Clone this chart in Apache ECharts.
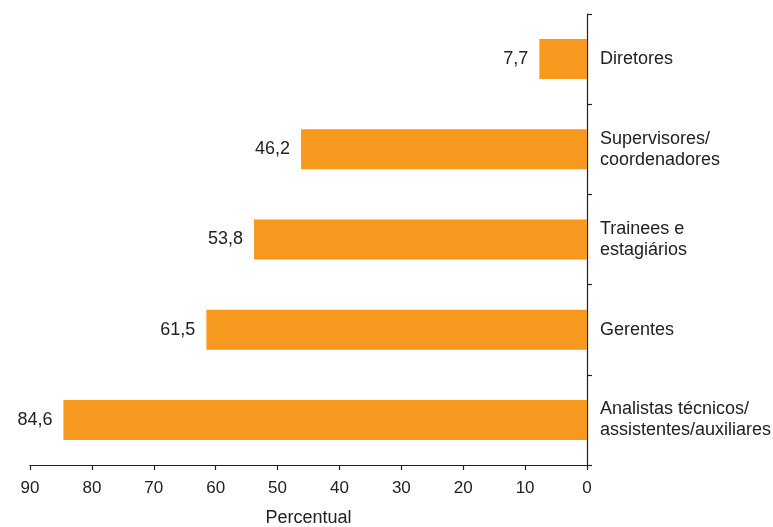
<!DOCTYPE html>
<html>
<head>
<meta charset="utf-8">
<script src="https://cdn.jsdelivr.net/npm/echarts@6/dist/echarts.min.js"></script>
<style>html,body{margin:0;padding:0;background:#fff}#c{width:773px;height:527px}</style>
</head>
<body>
<div id="c"></div>
<script>
const categories = ['Diretores', 'Supervisores/\ncoordenadores', 'Trainees e\nestagiários', 'Gerentes', 'Analistas técnicos/\nassistentes/auxiliares'];
const values = [7.7, 46.2, 53.8, 61.5, 84.6];
const xTicks = { min: 0, max: 90, interval: 10 };

const chart = echarts.init(document.getElementById('c'), null, { renderer: 'canvas' });
const font = '"Liberation Sans", Arial, sans-serif';
chart.setOption({
  animation: false,
  grid: { left: 30, right: 186, top: 14, bottom: 62, containLabel: false, outerBoundsMode: 'none' },
  xAxis: {
    type: 'value', inverse: true, position: 'bottom',
    min: xTicks.min, max: xTicks.max, interval: xTicks.interval,
    name: 'Percentual', nameLocation: 'middle', nameGap: 44,
    nameTextStyle: { fontSize: 18, color: '#222', fontFamily: font },
    axisLine: { show: true, lineStyle: { color: '#222', width: 1.2 } },
    axisTick: { show: true, inside: false, length: 5, lineStyle: { color: '#222', width: 1.2 } },
    axisLabel: { fontSize: 17, color: '#222', fontFamily: font, margin: 15 },
    splitLine: { show: false }
  },
  yAxis: {
    type: 'category', position: 'right', inverse: true, data: categories,
    axisLine: { show: true, lineStyle: { color: '#222', width: 1.2 } },
    axisTick: { show: true, inside: false, length: 5, alignWithLabel: false, lineStyle: { color: '#222', width: 1.2 } },
    axisLabel: { fontSize: 18, color: '#222', fontFamily: font, margin: 13, align: 'left', lineHeight: 21 },
    splitLine: { show: false }
  },
  series: [{
    type: 'bar', data: values, barWidth: 40,
    itemStyle: { color: '#F7981F' },
    label: {
      show: true, position: 'left', distance: 11,
      fontSize: 18, color: '#222', fontFamily: font,
      formatter: p => String(p.value).replace('.', ',')
    }
  }]
});
</script>
</body>
</html>
